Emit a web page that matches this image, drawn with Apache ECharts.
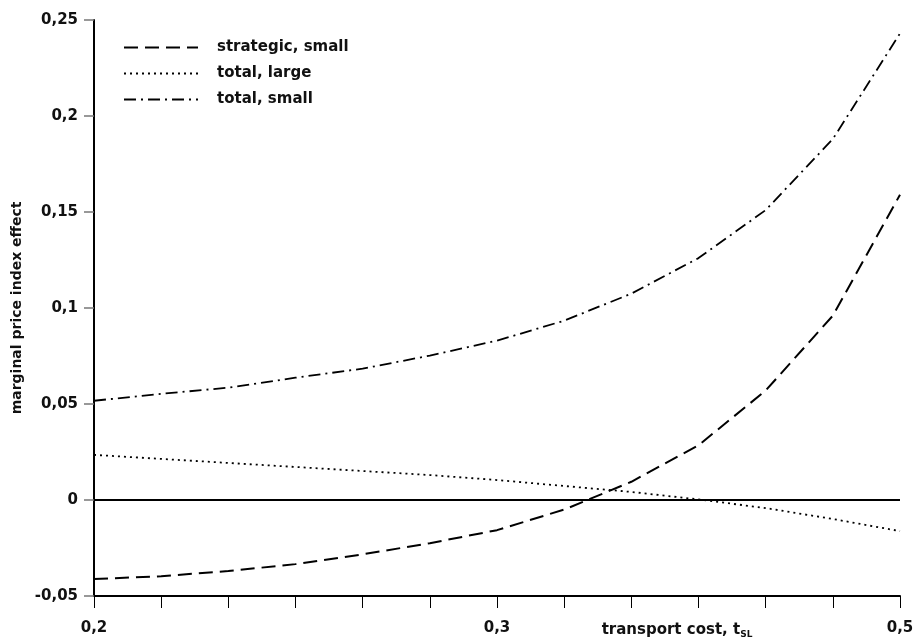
<!DOCTYPE html>
<html>
<head>
<meta charset="utf-8">
<script src="https://cdn.jsdelivr.net/npm/echarts@6/dist/echarts.min.js"></script>
<style>
  html, body { margin: 0; padding: 0; background: #fff; }
  #main { width: 916px; height: 641px; }
</style>
</head>
<body>
<div id="main"></div>
<script>
// x positions (transport cost) and the labels printed under the ticks
var xValues = ['0.2', '0.225', '0.25', '0.275', '0.3', '0.325', '0.35', '0.375', '0.4', '0.425', '0.45', '0.475', '0.5'];
var xTickLabels = ['0,2', '', '', '', '', '', '0,3', '', '', '', '', '', '0,5'];

var strategicSmall = [-0.0412, -0.0397, -0.0370, -0.0334, -0.0283, -0.0225, -0.0157, -0.0050, 0.0095, 0.0285, 0.0570, 0.0960, 0.1590];
var totalLarge = [0.0235, 0.0214, 0.0193, 0.0172, 0.0151, 0.0130, 0.0104, 0.0073, 0.0042, 0.0003, -0.0042, -0.0099, -0.0162];
var totalSmall = [0.0517, 0.0553, 0.0585, 0.0637, 0.0684, 0.0752, 0.0830, 0.0934, 0.1075, 0.1260, 0.1510, 0.1880, 0.2430];

var fontFam = '"DejaVu Sans", "Open Sans", sans-serif';

var chart = echarts.init(document.getElementById('main'));

chart.setOption({
  animation: false,
  grid: { left: 94, right: 16, top: 20, bottom: 45, outerBoundsMode: 'none', containLabel: false },
  legend: {
    orient: 'vertical',
    left: 118,
    top: 35,
    itemWidth: 74,
    itemHeight: 14,
    itemGap: 11,
    itemStyle: { color: 'transparent', borderColor: 'transparent', borderWidth: 0 },
    textStyle: { fontFamily: fontFam, fontSize: 15, lineHeight: 14, fontWeight: 'bold', color: '#111', padding: [0, 0, 0, 14] },
    data: ['strategic, small', 'total, large', 'total, small']
  },
  xAxis: {
    type: 'category',
    data: xValues,
    boundaryGap: false,
    name: '{a|transport cost, t}{s|SL}',
    nameLocation: 'middle',
    nameGap: 26,
    nameMoveOverlap: false,
    nameTextStyle: {
      padding: [0, 0, 0, 360],
      rich: {
        a: { fontFamily: fontFam, fontSize: 15, fontWeight: 'bold', color: '#111' },
        s: { fontFamily: fontFam, fontSize: 9, fontWeight: 'bold', color: '#111', verticalAlign: 'bottom', padding: [8, 0, 0, 0] }
      }
    },
    axisLine: { onZero: false, lineStyle: { color: '#000', width: 2 } },
    axisTick: { interval: 0, length: 12, lineStyle: { color: '#000', width: 1 } },
    axisLabel: {
      interval: 0,
      margin: 25,
      fontFamily: fontFam, fontSize: 15, fontWeight: 'bold', color: '#111',
      formatter: function (v, i) { return xTickLabels[i]; }
    },
    splitLine: { show: false }
  },
  yAxis: {
    type: 'value',
    min: -0.05,
    max: 0.25,
    interval: 0.05,
    name: 'marginal price index effect',
    nameLocation: 'middle',
    nameGap: 68,
    nameTextStyle: { fontFamily: fontFam, fontSize: 14, fontWeight: 'bold', color: '#111' },
    axisLine: { show: true, lineStyle: { color: '#000', width: 2 } },
    axisTick: { show: true, length: 10, lineStyle: { color: '#777', width: 1.5 } },
    axisLabel: {
      margin: 16,
      fontFamily: fontFam, fontSize: 15, fontWeight: 'bold', color: '#111',
      formatter: function (v) { return Number(v.toFixed(2)).toString().replace('.', ','); }
    },
    splitLine: { show: false }
  },
  series: [
    {
      name: 'strategic, small',
      type: 'line',
      data: strategicSmall,
      symbol: 'none',
      lineStyle: { color: '#000', width: 2, type: [14, 7] },
      itemStyle: { color: '#000' },
      markLine: {
        silent: true,
        symbol: 'none',
        label: { show: false },
        lineStyle: { color: '#000', width: 2, type: 'solid' },
        data: [{ yAxis: 0 }]
      }
    },
    {
      name: 'total, large',
      type: 'line',
      data: totalLarge,
      symbol: 'none',
      lineStyle: { color: '#000', width: 1.8, type: [2, 4] },
      itemStyle: { color: '#000' }
    },
    {
      name: 'total, small',
      type: 'line',
      data: totalSmall,
      symbol: 'none',
      lineStyle: { color: '#000', width: 1.8, type: [12, 5, 2, 5] },
      itemStyle: { color: '#000' }
    }
  ]
});
</script>
</body>
</html>
